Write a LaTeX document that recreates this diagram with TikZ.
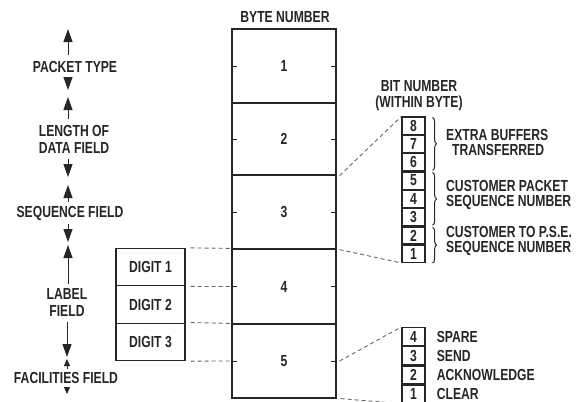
\documentclass[tikz,border=0pt]{standalone}
\usepackage{fontspec}
\setmainfont[FakeStretch=0.76]{Liberation Sans}
\usetikzlibrary{arrows.meta,decorations.pathreplacing}
\definecolor{ink}{HTML}{262626}
\definecolor{dashgray}{HTML}{666666}
\tikzset{
  lbl/.style={font=\fontsize{16}{17}\selectfont\bfseries, text=ink, inner sep=0pt},
  bytebox/.style={draw=ink, line width=1.2pt, minimum width=104pt, lbl},
  digitbox/.style={draw=ink, line width=1.2pt, minimum width=69pt, minimum height=37.33pt, lbl},
  bitbox/.style={draw=ink, line width=1.2pt, minimum width=23pt, minimum height=17.125pt, lbl},
  facbox/.style={draw=ink, line width=1.2pt, minimum width=23pt, minimum height=18pt, lbl},
  tickmark/.style={draw=ink, line width=1pt},
  dashline/.style={draw=dashgray, line width=0.9pt, dash pattern=on 4pt off 3pt},
  arr/.style={draw=ink, line width=1pt, -{Triangle[length=13pt,width=9pt]}},
  sarr/.style={draw=ink, line width=1pt, -{Triangle[length=7pt,width=6pt]}},
  bracestyle/.style={draw=ink, line width=1pt, decorate, decoration={brace, amplitude=4pt}},
}
\begin{document}
\begin{tikzpicture}[x=1pt,y=-1pt]
\useasboundingbox (0,0) rectangle (579,402);
% byte column
\node[lbl] (bytenum) at (285,17) {BYTE NUMBER};
\node[bytebox, minimum height=74pt] (b1) at (284,66) {1};
\node[bytebox, minimum height=72pt] (b2) at (284,139) {2};
\node[bytebox, minimum height=74pt] (b3) at (284,212) {3};
\node[bytebox, minimum height=75pt] (b4) at (284,286.5) {4};
\node[bytebox, minimum height=74pt] (b5) at (284,361) {5};
\foreach \b in {b1,b2,b3,b4,b5}{
  \draw[tickmark] (\b.west) -- ([xshift=6pt]\b.west);
  \draw[tickmark] (\b.east) -- ([xshift=-6pt]\b.east);
}
% digit boxes
\node[digitbox] (d1) at (150.5,267.17) {DIGIT 1};
\node[digitbox] (d2) at (150.5,304.5) {DIGIT 2};
\node[digitbox] (d3) at (150.5,341.83) {DIGIT 3};
\draw[dashline] ([xshift=5pt]d1.north east) -- (b4.north west);
\draw[dashline] ([xshift=5pt]d1.south east) -- (b4.west);
\draw[dashline] ([xshift=5pt]d3.north east) -- (b5.north west);
\draw[dashline] ([xshift=5pt]d3.south east) -- (b5.west);
% bit number column
\node[lbl] (bitnum) at (419,86) {BIT NUMBER};
\node[lbl] (within) at (419,103) {(WITHIN BYTE)};
\node[bitbox] (bit8) at (413.5,125.56) {8};
\node[bitbox, anchor=north] (bit7) at (bit8.south) {7};
\node[bitbox, anchor=north] (bit6) at (bit7.south) {6};
\node[bitbox, anchor=north] (bit5) at (bit6.south) {5};
\node[bitbox, anchor=north] (bit4) at (bit5.south) {4};
\node[bitbox, anchor=north] (bit3) at (bit4.south) {3};
\node[bitbox, anchor=north] (bit2) at (bit3.south) {2};
\node[bitbox, anchor=north] (bit1) at (bit2.south) {1};
\draw[dashline] ([xshift=3pt]b2.south east) -- (bit8.north west);
\draw[dashline] ([xshift=3pt]b3.south east) -- (bit1.south west);
\draw[bracestyle] ([xshift=7pt,yshift=-1pt]bit8.north east) -- ([xshift=7pt,yshift=1pt]bit6.south east);
\draw[bracestyle] ([xshift=7pt,yshift=-1pt]bit5.north east) -- ([xshift=7pt,yshift=1pt]bit3.south east);
\draw[bracestyle] ([xshift=7pt,yshift=-1pt]bit2.north east) -- ([xshift=7pt]bit1.south east);
\node[lbl, anchor=west] (eb1) at (446,135) {EXTRA BUFFERS};
\node[lbl, anchor=west] (eb2) at (452,149.5) {TRANSFERRED};
\node[lbl, anchor=west] (cp1) at (446,186) {CUSTOMER PACKET};
\node[lbl, anchor=west] (cp2) at (446,202.5) {SEQUENCE NUMBER};
\node[lbl, anchor=west] (cs1) at (446,231.5) {CUSTOMER TO P.S.E.};
\node[lbl, anchor=west] (cs2) at (446,248) {SEQUENCE NUMBER};
% facilities bits
\node[facbox] (f4) at (413.5,336.5) {4};
\node[facbox, anchor=north] (f3) at (f4.south) {3};
\node[facbox, anchor=north] (f2) at (f3.south) {2};
\node[facbox, anchor=north] (f1) at (f2.south) {1};
\draw[dashline] ([xshift=3pt]b5.east) -- (f4.north west);
\draw[dashline] ([xshift=4pt]b5.south east) -- (f1.south west);
\node[lbl, anchor=west] (spare) at ([xshift=11pt]f4.east) {SPARE};
\node[lbl, anchor=west] (send) at ([xshift=11pt]f3.east) {SEND};
\node[lbl, anchor=west] (ack) at ([xshift=11pt]f2.east) {ACKNOWLEDGE};
\node[lbl, anchor=west] (clear) at ([xshift=11pt]f1.east) {CLEAR};
% left labels
\node[lbl] (pt) at (75,67) {PACKET TYPE};
\node[lbl, align=center] (ldf) at (74,139.5) {LENGTH OF\\DATA FIELD};
\node[lbl] (sf) at (70,213) {SEQUENCE FIELD};
\node[lbl, align=center] (lf) at (67,302.5) {LABEL\\FIELD};
\node[lbl] (ff) at (66,378) {FACILITIES FIELD};
\coordinate (t1) at (68,29);
\coordinate (t2) at (68,90);
\coordinate (t3) at (68,97);
\coordinate (t4) at (68,177);
\coordinate (t5) at (68,185);
\coordinate (t6) at (68,242);
\coordinate (t7) at (68,245);
\coordinate (t8) at (67,357);
\coordinate (t9) at (67,359);
\coordinate (t10) at (67,394);
\draw[arr, shorten <=6pt] (pt.north -| t1) -- (t1);
\draw[arr, shorten <=4pt] (pt.south -| t2) -- (t2);
\draw[arr, shorten <=6pt] (ldf.north -| t3) -- (t3);
\draw[arr, shorten <=5pt] (ldf.south -| t4) -- (t4);
\draw[arr, shorten <=4pt] (sf.north -| t5) -- (t5);
\draw[arr, shorten <=4pt] (sf.south -| t6) -- (t6);
\draw[arr, shorten <=4pt] (lf.north -| t7) -- (t7);
\draw[arr, shorten <=5pt] (lf.south -| t8) -- (t8);
\draw[sarr, shorten <=3pt] (ff.north -| t9) -- (t9);
\draw[sarr, shorten <=4pt] (ff.south -| t10) -- (t10);
\end{tikzpicture}
\end{document}
